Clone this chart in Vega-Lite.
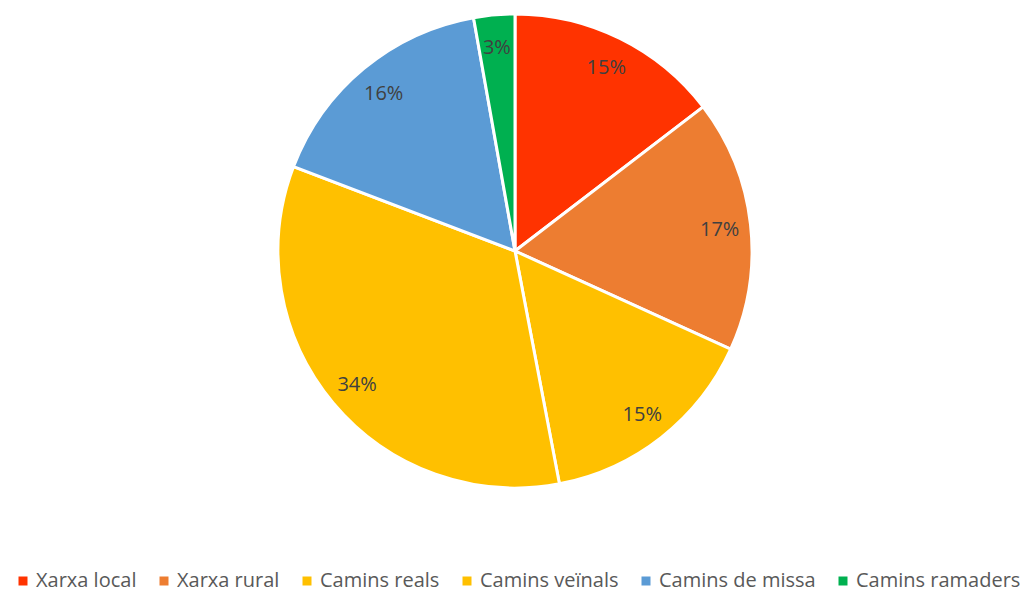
{
  "$schema": "https://vega.github.io/schema/vega-lite/v6.json",
  "width": 1030,
  "height": 502,
  "padding": 0,
  "background": "white",
  "config": {"view": {"stroke": null}, "font": "Open Sans"},
  "data": {"values": [
    {"cat": "Xarxa local", "idx": 1, "value": 14.6, "label": "15%"},
    {"cat": "Xarxa rural", "idx": 2, "value": 17.2, "label": "17%"},
    {"cat": "Camins reals", "idx": 3, "value": 15.2, "label": "15%"},
    {"cat": "Camins veïnals", "idx": 4, "value": 33.8, "label": "34%"},
    {"cat": "Camins de missa", "idx": 5, "value": 16.4, "label": "16%"},
    {"cat": "Camins ramaders", "idx": 6, "value": 2.8, "label": "3%"}
  ]},
  "encoding": {
    "theta": {"field": "value", "type": "quantitative", "stack": true},
    "order": {"field": "idx", "type": "quantitative"}
  },
  "layer": [
    {
      "mark": {"type": "arc", "outerRadius": 237, "stroke": "white", "strokeWidth": 3},
      "encoding": {
        "color": {
          "field": "cat", "type": "nominal",
          "scale": {
            "domain": ["Xarxa local", "Xarxa rural", "Camins reals", "Camins veïnals", "Camins de missa", "Camins ramaders"],
            "range": ["#FF3300", "#ED7D31", "#FFC000", "#FFC000", "#5B9BD5", "#00B050"]
          },
          "legend": {
            "title": null,
            "orient": "none",
            "legendX": 13,
            "legendY": 571,
            "direction": "horizontal",
            "symbolType": "square",
            "symbolSize": 81,
            "symbolStrokeWidth": 0,
            "labelFontSize": 20,
            "labelOffset": 3,
            "labelColor": "#595959",
            "labelFont": "Open Sans",
            "columnPadding": 17,
            "labelLimit": 300
          }
        }
      }
    },
    {
      "mark": {"type": "text", "radius": 206, "fontSize": 20, "color": "#404040", "font": "Open Sans", "dy": 2},
      "encoding": {"text": {"field": "label", "type": "nominal"}}
    }
  ]
}
